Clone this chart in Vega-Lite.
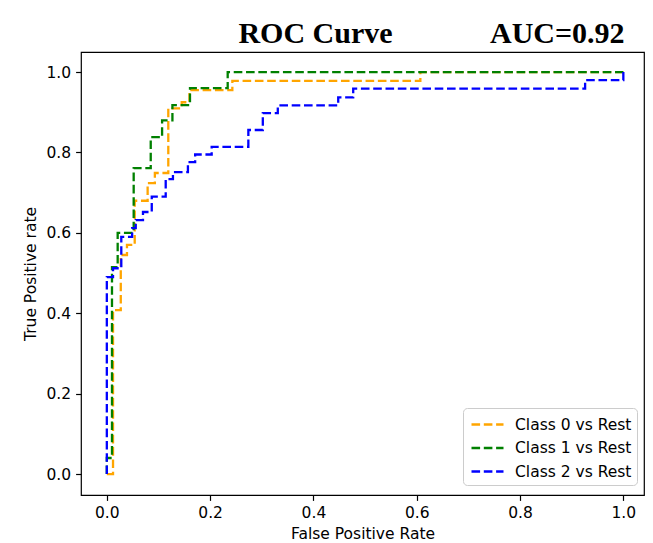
{
  "$schema": "https://vega.github.io/schema/vega-lite/v6.json",
  "width": 563,
  "height": 443,
  "autosize": {"type": "none"},
  "padding": {"left": 81, "top": 52, "right": 9, "bottom": 48},
  "background": "white",
  "title": {
    "text": "ROC Curve\u00a0\u00a0\u00a0\u00a0\u00a0\u00a0\u00a0\u00a0\u00a0\u00a0\u00a0\u00a0\u00a0AUC=0.92",
    "font": "Liberation Serif",
    "fontWeight": "bold",
    "fontSize": 30,
    "color": "#000000",
    "anchor": "middle",
    "dx": 69,
    "dy": 29,
    "offset": 8,
    "baseline": "alphabetic"
  },
  "data": {
    "values": [
      {"cls": "Class 0 vs Rest", "ord": 0, "fpr": 0.0, "tpr": 0.0},
      {"cls": "Class 0 vs Rest", "ord": 1, "fpr": 0.012, "tpr": 0.0},
      {"cls": "Class 0 vs Rest", "ord": 2, "fpr": 0.012, "tpr": 0.408},
      {"cls": "Class 0 vs Rest", "ord": 3, "fpr": 0.027, "tpr": 0.408},
      {"cls": "Class 0 vs Rest", "ord": 4, "fpr": 0.027, "tpr": 0.545},
      {"cls": "Class 0 vs Rest", "ord": 5, "fpr": 0.039, "tpr": 0.545},
      {"cls": "Class 0 vs Rest", "ord": 6, "fpr": 0.039, "tpr": 0.57},
      {"cls": "Class 0 vs Rest", "ord": 7, "fpr": 0.054, "tpr": 0.57},
      {"cls": "Class 0 vs Rest", "ord": 8, "fpr": 0.054, "tpr": 0.68},
      {"cls": "Class 0 vs Rest", "ord": 9, "fpr": 0.079, "tpr": 0.68},
      {"cls": "Class 0 vs Rest", "ord": 10, "fpr": 0.079, "tpr": 0.724},
      {"cls": "Class 0 vs Rest", "ord": 11, "fpr": 0.093, "tpr": 0.724},
      {"cls": "Class 0 vs Rest", "ord": 12, "fpr": 0.093, "tpr": 0.749},
      {"cls": "Class 0 vs Rest", "ord": 13, "fpr": 0.119, "tpr": 0.749},
      {"cls": "Class 0 vs Rest", "ord": 14, "fpr": 0.119, "tpr": 0.91},
      {"cls": "Class 0 vs Rest", "ord": 15, "fpr": 0.145, "tpr": 0.91},
      {"cls": "Class 0 vs Rest", "ord": 16, "fpr": 0.145, "tpr": 0.925},
      {"cls": "Class 0 vs Rest", "ord": 17, "fpr": 0.16, "tpr": 0.925},
      {"cls": "Class 0 vs Rest", "ord": 18, "fpr": 0.16, "tpr": 0.955},
      {"cls": "Class 0 vs Rest", "ord": 19, "fpr": 0.243, "tpr": 0.955},
      {"cls": "Class 0 vs Rest", "ord": 20, "fpr": 0.243, "tpr": 0.978},
      {"cls": "Class 0 vs Rest", "ord": 21, "fpr": 0.607, "tpr": 0.978},
      {"cls": "Class 0 vs Rest", "ord": 22, "fpr": 0.607, "tpr": 1.0},
      {"cls": "Class 0 vs Rest", "ord": 23, "fpr": 1.0, "tpr": 1.0},

      {"cls": "Class 1 vs Rest", "ord": 0, "fpr": 0.0, "tpr": 0.0},
      {"cls": "Class 1 vs Rest", "ord": 1, "fpr": 0.0, "tpr": 0.04},
      {"cls": "Class 1 vs Rest", "ord": 2, "fpr": 0.01, "tpr": 0.04},
      {"cls": "Class 1 vs Rest", "ord": 3, "fpr": 0.01, "tpr": 0.515},
      {"cls": "Class 1 vs Rest", "ord": 4, "fpr": 0.021, "tpr": 0.515},
      {"cls": "Class 1 vs Rest", "ord": 5, "fpr": 0.021, "tpr": 0.6},
      {"cls": "Class 1 vs Rest", "ord": 6, "fpr": 0.052, "tpr": 0.6},
      {"cls": "Class 1 vs Rest", "ord": 7, "fpr": 0.052, "tpr": 0.761},
      {"cls": "Class 1 vs Rest", "ord": 8, "fpr": 0.085, "tpr": 0.761},
      {"cls": "Class 1 vs Rest", "ord": 9, "fpr": 0.085, "tpr": 0.838},
      {"cls": "Class 1 vs Rest", "ord": 10, "fpr": 0.107, "tpr": 0.838},
      {"cls": "Class 1 vs Rest", "ord": 11, "fpr": 0.107, "tpr": 0.88},
      {"cls": "Class 1 vs Rest", "ord": 12, "fpr": 0.127, "tpr": 0.88},
      {"cls": "Class 1 vs Rest", "ord": 13, "fpr": 0.127, "tpr": 0.918},
      {"cls": "Class 1 vs Rest", "ord": 14, "fpr": 0.161, "tpr": 0.918},
      {"cls": "Class 1 vs Rest", "ord": 15, "fpr": 0.161, "tpr": 0.96},
      {"cls": "Class 1 vs Rest", "ord": 16, "fpr": 0.234, "tpr": 0.96},
      {"cls": "Class 1 vs Rest", "ord": 17, "fpr": 0.234, "tpr": 1.0},
      {"cls": "Class 1 vs Rest", "ord": 18, "fpr": 1.0, "tpr": 1.0},

      {"cls": "Class 2 vs Rest", "ord": 0, "fpr": 0.0, "tpr": 0.0},
      {"cls": "Class 2 vs Rest", "ord": 1, "fpr": 0.0, "tpr": 0.49},
      {"cls": "Class 2 vs Rest", "ord": 2, "fpr": 0.012, "tpr": 0.49},
      {"cls": "Class 2 vs Rest", "ord": 3, "fpr": 0.012, "tpr": 0.512},
      {"cls": "Class 2 vs Rest", "ord": 4, "fpr": 0.028, "tpr": 0.512},
      {"cls": "Class 2 vs Rest", "ord": 5, "fpr": 0.028, "tpr": 0.59},
      {"cls": "Class 2 vs Rest", "ord": 6, "fpr": 0.049, "tpr": 0.59},
      {"cls": "Class 2 vs Rest", "ord": 7, "fpr": 0.049, "tpr": 0.612},
      {"cls": "Class 2 vs Rest", "ord": 8, "fpr": 0.056, "tpr": 0.612},
      {"cls": "Class 2 vs Rest", "ord": 9, "fpr": 0.056, "tpr": 0.632},
      {"cls": "Class 2 vs Rest", "ord": 10, "fpr": 0.07, "tpr": 0.632},
      {"cls": "Class 2 vs Rest", "ord": 11, "fpr": 0.07, "tpr": 0.652},
      {"cls": "Class 2 vs Rest", "ord": 12, "fpr": 0.087, "tpr": 0.652},
      {"cls": "Class 2 vs Rest", "ord": 13, "fpr": 0.087, "tpr": 0.69},
      {"cls": "Class 2 vs Rest", "ord": 14, "fpr": 0.114, "tpr": 0.69},
      {"cls": "Class 2 vs Rest", "ord": 15, "fpr": 0.114, "tpr": 0.734},
      {"cls": "Class 2 vs Rest", "ord": 16, "fpr": 0.128, "tpr": 0.734},
      {"cls": "Class 2 vs Rest", "ord": 17, "fpr": 0.128, "tpr": 0.751},
      {"cls": "Class 2 vs Rest", "ord": 18, "fpr": 0.157, "tpr": 0.751},
      {"cls": "Class 2 vs Rest", "ord": 19, "fpr": 0.157, "tpr": 0.776},
      {"cls": "Class 2 vs Rest", "ord": 20, "fpr": 0.171, "tpr": 0.776},
      {"cls": "Class 2 vs Rest", "ord": 21, "fpr": 0.171, "tpr": 0.795},
      {"cls": "Class 2 vs Rest", "ord": 22, "fpr": 0.203, "tpr": 0.795},
      {"cls": "Class 2 vs Rest", "ord": 23, "fpr": 0.203, "tpr": 0.814},
      {"cls": "Class 2 vs Rest", "ord": 24, "fpr": 0.274, "tpr": 0.814},
      {"cls": "Class 2 vs Rest", "ord": 25, "fpr": 0.274, "tpr": 0.856},
      {"cls": "Class 2 vs Rest", "ord": 26, "fpr": 0.302, "tpr": 0.856},
      {"cls": "Class 2 vs Rest", "ord": 27, "fpr": 0.302, "tpr": 0.898},
      {"cls": "Class 2 vs Rest", "ord": 28, "fpr": 0.331, "tpr": 0.898},
      {"cls": "Class 2 vs Rest", "ord": 29, "fpr": 0.331, "tpr": 0.917},
      {"cls": "Class 2 vs Rest", "ord": 30, "fpr": 0.448, "tpr": 0.917},
      {"cls": "Class 2 vs Rest", "ord": 31, "fpr": 0.448, "tpr": 0.937},
      {"cls": "Class 2 vs Rest", "ord": 32, "fpr": 0.477, "tpr": 0.937},
      {"cls": "Class 2 vs Rest", "ord": 33, "fpr": 0.477, "tpr": 0.959},
      {"cls": "Class 2 vs Rest", "ord": 34, "fpr": 0.926, "tpr": 0.959},
      {"cls": "Class 2 vs Rest", "ord": 35, "fpr": 0.926, "tpr": 0.98},
      {"cls": "Class 2 vs Rest", "ord": 36, "fpr": 1.0, "tpr": 0.98},
      {"cls": "Class 2 vs Rest", "ord": 37, "fpr": 1.0, "tpr": 1.0}
    ]
  },
  "mark": {"type": "line", "strokeWidth": 2.3, "strokeDash": [8.6, 3.7], "clip": true},
  "encoding": {
    "x": {
      "field": "fpr",
      "type": "quantitative",
      "scale": {"domain": [-0.05, 1.04], "nice": false, "zero": false},
      "axis": {
        "title": "False Positive Rate",
        "values": [0, 0.2, 0.4, 0.6, 0.8, 1.0],
        "format": ".1f",
        "titlePadding": 6
      }
    },
    "y": {
      "field": "tpr",
      "type": "quantitative",
      "scale": {"domain": [-0.052, 1.05], "nice": false, "zero": false},
      "axis": {
        "title": "True Positive rate",
        "values": [0, 0.2, 0.4, 0.6, 0.8, 1.0],
        "format": ".1f",
        "titlePadding": 7
      }
    },
    "color": {
      "field": "cls",
      "type": "nominal",
      "scale": {
        "domain": ["Class 0 vs Rest", "Class 1 vs Rest", "Class 2 vs Rest"],
        "range": ["orange", "green", "blue"]
      },
      "legend": {
        "title": null,
        "orient": "none",
        "legendX": 382,
        "legendY": 356,
        "symbolType": "M-1.6,0H1.6",
        "symbolSize": 400,
        "symbolOffset": 8,
        "symbolStrokeWidth": 2.3,
        "symbolDash": [8.6, 3.7],
        "labelFont": "DejaVu Sans",
        "labelFontSize": 15.5,
        "labelColor": "#000000",
        "labelOffset": 16,
        "rowPadding": 3.5,
        "padding": 5,
        "strokeColor": "#cccccc",
        "fillColor": "rgba(255,255,255,0.8)",
        "cornerRadius": 4
      }
    },
    "order": {"field": "ord", "type": "quantitative"}
  },
  "config": {
    "view": {"stroke": "#000000", "strokeWidth": 1.2},
    "axis": {
      "grid": false,
      "domain": false,
      "tickColor": "#000000",
      "tickSize": 5.4,
      "tickWidth": 1.2,
      "labelPadding": 5,
      "labelFont": "DejaVu Sans",
      "labelFontSize": 15.5,
      "labelColor": "#000000",
      "titleFont": "DejaVu Sans",
      "titleFontSize": 15.5,
      "titleFontWeight": "normal",
      "titleColor": "#000000"
    }
  }
}
